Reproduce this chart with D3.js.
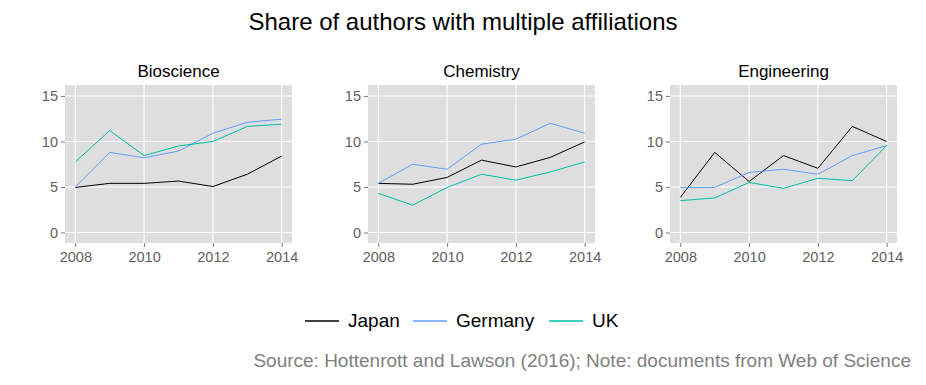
<!DOCTYPE html>
<html>
<head>
<meta charset="utf-8">
<script src="https://cdn.jsdelivr.net/npm/d3@7"></script>
<style>
body{margin:0;background:#fff;}
text{font-family:"Liberation Sans",Arial,sans-serif;}
</style>
</head>
<body>
<svg id="chart" width="926" height="385"></svg>
<script>
var years = [2008, 2009, 2010, 2011, 2012, 2013, 2014];
var fields = ["Bioscience", "Chemistry", "Engineering"];
var countries = ["Japan", "Germany", "UK"];
var colors = ["#000000", "#619CFF", "#00BFA5"];

// values per field, one row per country (Japan, Germany, UK)
var bioscience = [
	[4.95, 5.4, 5.4, 5.65, 5.05, 6.4, 8.4],
	[5.0, 8.8, 8.2, 8.95, 10.9, 12.1, 12.45],
	[7.75, 11.2, 8.45, 9.5, 10.0, 11.65, 11.9]
];
var chemistry = [
	[5.4, 5.3, 6.05, 7.95, 7.2, 8.25, 9.95],
	[5.4, 7.5, 6.95, 9.7, 10.25, 12.0, 10.9],
	[4.3, 3.0, 4.95, 6.4, 5.75, 6.65, 7.75]
];
var engineering = [
	[3.85, 8.8, 5.6, 8.45, 7.05, 11.65, 10.0],
	[4.95, 4.95, 6.6, 6.95, 6.4, 8.45, 9.55],
	[3.5, 3.8, 5.5, 4.85, 5.95, 5.7, 9.55]
];
var yTicks = [0, 5, 10, 15];
var xTicks = [2008, 2010, 2012, 2014];

var panelData = [bioscience, chemistry, engineering];
var panelLeft = [65, 368, 670]; // left edge of each plot area
var panelW = 227, plotTop = 85, plotBottom = 243;

var svg = d3.select("#chart");

//main title
svg.append("text")
	.attr("x", 463).attr("y", 30)
	.attr("text-anchor", "middle")
	.attr("font-size", 24)
	.text("Share of authors with multiple affiliations");

var y = d3.scaleLinear().domain([-1.15, 16.2]).range([plotBottom, plotTop]);

fields.forEach(function(f, p){
	var x0 = panelLeft[p];
	var x = d3.scaleLinear().domain([2007.7, 2014.3]).range([x0, x0 + panelW]);
	var g = svg.append("g");

	// facet label
	g.append("text")
		.attr("x", x0 + panelW/2).attr("y", 77)
		.attr("text-anchor", "middle")
		.attr("font-size", 17)
		.text(f);

	// background
	g.append("rect")
		.attr("x", x0).attr("y", plotTop)
		.attr("width", panelW).attr("height", plotBottom - plotTop)
		.attr("fill", "#DEDEDE");

	// grid
	g.selectAll("line.hg").data(yTicks).enter().append("line")
		.attr("x1", x0).attr("x2", x0 + panelW)
		.attr("y1", function(d){ return y(d); })
		.attr("y2", function(d){ return y(d); })
		.attr("stroke", "#fff").attr("stroke-width", 1.1);
	g.selectAll("line.vg").data(xTicks).enter().append("line")
		.attr("y1", plotTop).attr("y2", plotBottom)
		.attr("x1", function(d){ return x(d); })
		.attr("x2", function(d){ return x(d); })
		.attr("stroke", "#fff").attr("stroke-width", 1.1);

	// axes
	var yAxis = g.append("g")
		.attr("transform", "translate(" + x0 + ",0)")
		.call(d3.axisLeft(y).tickValues(yTicks).tickSize(4).tickPadding(3));
	var xAxis = g.append("g")
		.attr("transform", "translate(0," + plotBottom + ")")
		.call(d3.axisBottom(x).tickValues(xTicks).tickFormat(d3.format("d")).tickSize(4).tickPadding(5));
	[yAxis, xAxis].forEach(function(a){
		a.select(".domain").remove();
		a.selectAll("line").attr("stroke", "#7a7a7a");
		a.selectAll("text").attr("fill", "#5f5f5f").attr("font-size", 14.5)
			.attr("font-family", "Liberation Sans, Arial, sans-serif");
	});

	// lines
	var line = d3.line()
		.x(function(d, i){ return x(years[i]); })
		.y(function(d){ return y(d); });
	panelData[p].forEach(function(vals, c){
		g.append("path")
			.attr("d", line(vals))
			.attr("fill", "none")
			.attr("stroke", colors[c])
			.attr("stroke-width", 1);
	});
});

// legend
var legX = [305, 413, 549];
countries.forEach(function(c, i){
	svg.append("line")
		.attr("x1", legX[i]).attr("x2", legX[i] + 34)
		.attr("y1", 321).attr("y2", 321)
		.attr("stroke", colors[i]).attr("stroke-width", 1.5);
	svg.append("text")
		.attr("x", legX[i] + 43).attr("y", 327)
		.attr("font-size", 19)
		.text(c);
});

// caption
svg.append("text")
	.attr("x", 911).attr("y", 367)
	.attr("text-anchor", "end")
	.attr("font-size", 19)
	.attr("fill", "#808080")
	.text("Source: Hottenrott and Lawson (2016); Note: documents from Web of Science");
</script>
</body>
</html>
